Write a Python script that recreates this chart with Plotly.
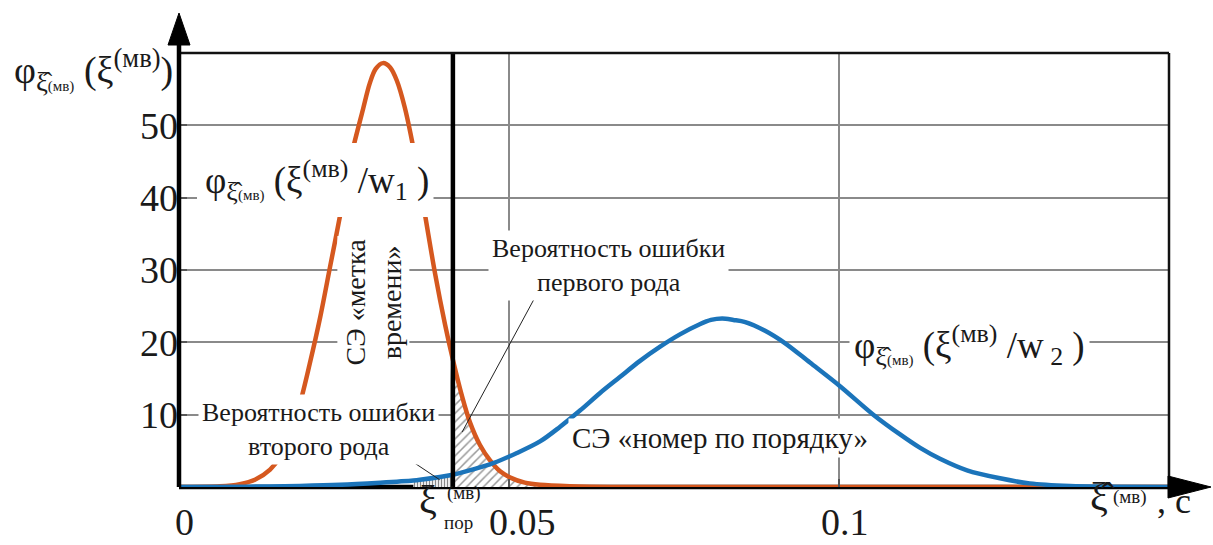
import plotly.graph_objects as go

# ---------------- data ----------------
orange_x = [0.0, 0.0062, 0.0092, 0.0115, 0.0138, 0.0153, 0.0168, 0.0183, 0.0198, 0.0214,
            0.0229, 0.0244, 0.0259, 0.0279, 0.0289, 0.0298, 0.0309, 0.0320, 0.0330, 0.0342,
            0.0358, 0.0373, 0.0388, 0.0403, 0.0415, 0.0429, 0.0441, 0.0456, 0.0471, 0.0486,
            0.0502, 0.0524, 0.0547, 0.0592, 0.0668, 0.15]
orange_y = [0.0, 0.1, 0.4, 1.0, 2.4, 4.2, 7.5, 11.5, 17.0, 23.5,
            30.5, 37.5, 45.0, 52.3, 55.8, 57.8, 58.6, 58.0, 56.2, 52.5,
            45.5, 37.5, 29.5, 22.5, 17.6, 12.5, 8.9, 5.8, 3.7, 2.2,
            1.3, 0.6, 0.3, 0.1, 0.0, 0.0]

blue_x = [0.0, 0.0108, 0.0183, 0.0244, 0.0305, 0.0355, 0.0365, 0.0415, 0.0448, 0.0476, 0.0512,
          0.0547, 0.0577, 0.0608, 0.0638, 0.0668, 0.0698, 0.0729, 0.0759, 0.0789, 0.0806,
          0.0823, 0.0840, 0.0858, 0.0888, 0.0918, 0.0956, 0.1002, 0.1052, 0.1092, 0.1123,
          0.1153, 0.1194, 0.1244, 0.1289, 0.1350, 0.1411, 0.15]
blue_y = [0.0, 0.05, 0.15, 0.3, 0.6, 0.9, 1.0, 1.7, 2.5, 3.3, 4.7,
          6.3, 8.3, 10.6, 13.0, 15.2, 17.4, 19.4, 21.1, 22.5, 23.1,
          23.3, 23.1, 22.8, 21.6, 19.9, 17.2, 13.9, 10.0, 7.3, 5.4,
          3.9, 2.3, 1.2, 0.5, 0.15, 0.05, 0.0]

threshold = 0.0415
err2_start = 0.0355
err1_end = 0.0592

x_tickvals = [0, 0.05, 0.1]
x_ticktext = ["0", "0.05", "0.1"]
y_tickvals = [10, 20, 30, 40, 50]
y_ticktext = ["10", "20", "30", "40", "50"]

ORANGE = "#D5581F"
BLUE = "#1B74BA"
FONT = "Liberation Serif"
TXT = "#1a1a1a"

fig = go.Figure()

# hatched area: error of the first kind (under orange, right of threshold)
h1x = [threshold] + [x for x in orange_x if threshold <= x <= err1_end] + [err1_end]
h1y = [0.0] + [y for x, y in zip(orange_x, orange_y) if threshold <= x <= err1_end] + [0.0]
fig.add_trace(go.Scatter(x=h1x, y=h1y, mode="lines", line=dict(width=0.8, color="#666", shape="spline"),
                         fill="toself", fillcolor="white",
                         fillpattern=dict(shape="/", fgcolor="#333", bgcolor="white", size=6, solidity=0.25),
                         hoverinfo="skip", showlegend=False))

# hatched area: error of the second kind (under blue, left of threshold)
h2x = [err2_start] + [x for x in blue_x if err2_start <= x <= threshold] + [threshold]
h2y = [0.0] + [y for x, y in zip(blue_x, blue_y) if err2_start <= x <= threshold] + [0.0]
fig.add_trace(go.Scatter(x=h2x, y=h2y, mode="lines", line=dict(width=0),
                         fill="toself", fillcolor="white",
                         fillpattern=dict(shape="|", fgcolor="#111", bgcolor="white", size=3, solidity=0.45),
                         hoverinfo="skip", showlegend=False))

fig.add_trace(go.Scatter(x=orange_x, y=orange_y, mode="lines",
                         line=dict(color=ORANGE, width=4.5, shape="spline", smoothing=0.9),
                         hoverinfo="skip", showlegend=False))
fig.add_trace(go.Scatter(x=blue_x, y=blue_y, mode="lines",
                         line=dict(color=BLUE, width=4.5, shape="spline", smoothing=0.9),
                         hoverinfo="skip", showlegend=False))

W, H = 1213, 545
L, R, T, B = 179, 44, 53, 58
pw, ph = W - L - R, H - T - B


def px(xp):
    return (xp - L) / pw


def py(yp):
    return (H - B - yp) / ph


shapes = []
# x axis (below curves)
shapes.append(dict(type="line", xref="paper", yref="paper", x0=0, x1=px(1175), y0=0, y1=0,
                   line=dict(color="black", width=4.5), layer="below"))
# white mask behind the w1 label (interrupts the orange curve, as in the original)
shapes.append(dict(type="rect", xref="paper", yref="paper", x0=px(197), x1=px(433), y0=py(217), y1=py(143),
                   fillcolor="white", line=dict(width=0)))
# threshold line
shapes.append(dict(type="line", xref="x", yref="y", x0=threshold, x1=threshold, y0=0, y1=60,
                   line=dict(color="black", width=4.5)))
# box top/right
shapes.append(dict(type="line", xref="paper", yref="paper", x0=0, x1=1, y0=1, y1=1, line=dict(color="#111", width=2.5)))
shapes.append(dict(type="line", xref="paper", yref="paper", x0=1, x1=1, y0=0, y1=1, line=dict(color="#111", width=2.5)))
# y axis
shapes.append(dict(type="line", xref="paper", yref="paper", x0=0, x1=0, y0=0, y1=py(40), line=dict(color="black", width=4.5)))
# arrows
shapes.append(dict(type="path", xref="paper", yref="paper",
                   path=f"M {px(168)} {py(45)} L {px(179)} {py(13)} L {px(190)} {py(45)} Z",
                   fillcolor="black", line=dict(color="black", width=1)))
shapes.append(dict(type="path", xref="paper", yref="paper",
                   path=f"M {px(1168)} {py(476)} L {px(1211)} {py(487)} L {px(1168)} {py(498)} Z",
                   fillcolor="black", line=dict(color="black", width=1)))
# leader lines
shapes.append(dict(type="line", xref="x", yref="y", x0=0.0547, y0=27.5, x1=0.0429, y1=7.6, line=dict(color="#222", width=1)))
shapes.append(dict(type="line", xref="x", yref="y", x0=0.0339, y0=4.4, x1=0.0395, y1=1.0, line=dict(color="#222", width=1)))

sm = "font-size:15px"
phi_sub = f"φ<sub>ξ̂<span style='{sm}'>(мв)</span></sub>"

annotations = [
    # y axis label
    dict(xref="paper", yref="paper", x=px(175), y=py(70), xanchor="right", yanchor="middle",
         text=f"{phi_sub} (ξ<sup>(мв)</sup>)", showarrow=False, font=dict(family=FONT, size=38, color=TXT)),
    # curve labels
    dict(xref="x", yref="y", x=0.0209, y=42.4, text=f"{phi_sub} (ξ<sup>(мв)</sup> /w<sub>1</sub> )",
         showarrow=False, bgcolor="white", borderpad=4, font=dict(family=FONT, size=37, color=TXT)),
    dict(xref="x", yref="y", x=0.1197, y=19.6, text=f"{phi_sub} (ξ<sup>(мв)</sup> /w<sub> 2</sub> )",
         showarrow=False, bgcolor="white", borderpad=4, font=dict(family=FONT, size=37, color=TXT)),
    dict(xref="x", yref="y", x=0.0295, y=25.6, text="СЭ «метка<br>времени»", textangle=-90,
         showarrow=False, bgcolor="white", borderpad=2, font=dict(family=FONT, size=28, color=TXT)),
    dict(xref="x", yref="y", x=0.065, y=30.6, text="Вероятность ошибки<br>первого рода",
         showarrow=False, bgcolor="white", borderpad=3, font=dict(family=FONT, size=26, color=TXT)),
    dict(xref="x", yref="y", x=0.0211, y=7.9, text="Вероятность ошибки<br>второго рода",
         showarrow=False, bgcolor="white", borderpad=3, font=dict(family=FONT, size=26, color=TXT)),
    dict(xref="x", yref="y", x=0.082, y=6.8, text="СЭ «номер по порядку»",
         showarrow=False, bgcolor="white", borderpad=3, font=dict(family=FONT, size=29, color=TXT)),
    # threshold label
    dict(xref="paper", yref="paper", x=px(417), y=py(524), text="ξ", showarrow=False,
         font=dict(family=FONT, size=40, color=TXT)),
    dict(xref="paper", yref="paper", x=px(445), y=py(506), text="(мв)", showarrow=False,
         font=dict(family=FONT, size=19, color=TXT)),
    dict(xref="paper", yref="paper", x=px(442), y=py(535), text="пор", showarrow=False,
         font=dict(family=FONT, size=19, color=TXT)),
    # x axis label
    dict(xref="paper", yref="paper", x=px(1117), y=py(521), text="ξ̂", showarrow=False,
         font=dict(family=FONT, size=40, color=TXT)),
    dict(xref="paper", yref="paper", x=px(1149), y=py(510), text="(мв)", showarrow=False,
         font=dict(family=FONT, size=19, color=TXT)),
    dict(xref="paper", yref="paper", x=px(1193), y=py(523), text=", c", showarrow=False,
         font=dict(family=FONT, size=36, color=TXT)),
]

# x tick labels (slightly right of their ticks, as in the original)
x_label_shift = [5, 13, 6]
for v, t, s in zip(x_tickvals, x_ticktext, x_label_shift):
    annotations.append(dict(xref="x", yref="paper", x=v, y=0, yanchor="middle", xshift=s, yshift=-35,
                            text=t, showarrow=False, font=dict(family=FONT, size=38, color=TXT)))

fig.update_layout(
    width=W, height=H,
    margin=dict(l=L, r=R, t=T, b=B, pad=0, autoexpand=False),
    paper_bgcolor="white", plot_bgcolor="white",
    shapes=shapes, annotations=annotations,
    showlegend=False,
    xaxis=dict(range=[0, 0.15], tickvals=x_tickvals, ticktext=x_ticktext, showgrid=True,
               showticklabels=False, automargin=False,
               gridcolor="#8a8a8a", gridwidth=2, zeroline=False, showline=False,
               ticks="inside", ticklen=8, tickcolor="#555", tickwidth=2, fixedrange=True),
    yaxis=dict(range=[0, 60], tickvals=y_tickvals, ticktext=y_ticktext, showgrid=True,
               automargin=False,
               gridcolor="#8a8a8a", gridwidth=2, zeroline=False, showline=False,
               ticks="inside", ticklen=8, tickcolor="#555", tickwidth=2,
               tickfont=dict(family=FONT, size=38, color=TXT), fixedrange=True),
)

fig.write_html("out.html")
